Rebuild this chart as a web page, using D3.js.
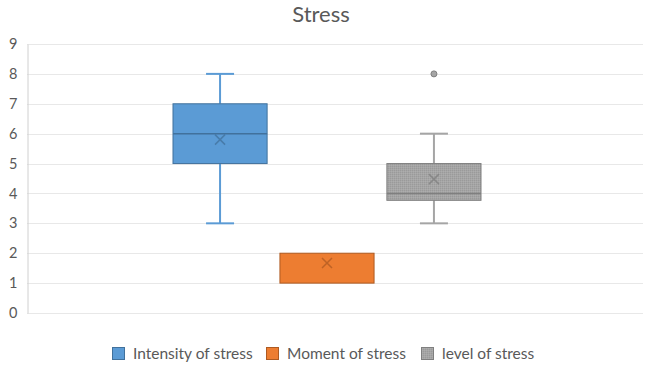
<!DOCTYPE html>
<html>
<head>
<meta charset="utf-8">
<script src="https://cdn.jsdelivr.net/npm/d3@7"></script>
<style>
  body { margin: 0; background: #fff; }
  text { font-family: Lato, "Open Sans", sans-serif; fill: #595959; }
</style>
</head>
<body>
<script>
const w = 646;
const h = 370;

// data
const seriesNames = ["Intensity of stress", "Moment of stress", "level of stress"];
const mins = [3, 1, 3];
const q1s = [5, 1, 3.77];
const medians = [6, null, 4];
const q3s = [7, 2, 5];
const maxs = [8, 2, 6];
const means = [5.8, 1.67, 4.48];
const outliers = [[], [], [8]];
const yTicks = [0, 1, 2, 3, 4, 5, 6, 7, 8, 9];

const fills = ["#5B9BD5", "#ED7D31", "#A5A5A5"];
const strokes = ["#41719C", "#AE5A21", "#7F7F7F"];

const svg = d3.select("body")
  .append("svg")
  .attr("width", w)
  .attr("height", h);

const y = d3.scaleLinear().domain([0, 9]).range([313, 44]);
const x = d3.scaleBand()
  .domain(seriesNames)
  .range([173, 481])
  .paddingInner(0.12);

// title
svg.append("text")
  .attr("x", 321)
  .attr("y", 22)
  .attr("text-anchor", "middle")
  .style("font-size", "22px")
  .text("Stress");

// gridlines
svg.append("g")
  .selectAll("line")
  .data(yTicks)
  .enter()
  .append("line")
  .attr("x1", 27)
  .attr("x2", 643)
  .attr("y1", d => Math.round(y(d)) + 0.5)
  .attr("y2", d => Math.round(y(d)) + 0.5)
  .attr("stroke", "#E8E8E8")
  .attr("stroke-width", 1);

// y axis
const yAxis = svg.append("g")
  .attr("transform", "translate(27.5,0)")
  .call(d3.axisLeft(y).tickValues(yTicks).tickSize(0).tickPadding(10));
yAxis.select(".domain").attr("stroke", "#D0D0D0");
yAxis.selectAll("text").style("font-size", "14.5px").attr("fill", "#595959");

// pattern for the grey box
const defs = svg.append("defs");
const pat = defs.append("pattern")
  .attr("id", "greyPat")
  .attr("width", 2)
  .attr("height", 2)
  .attr("patternUnits", "userSpaceOnUse");
pat.append("rect").attr("width", 2).attr("height", 2).attr("fill", "#A5A5A5");
pat.append("rect").attr("width", 1).attr("height", 1).attr("fill", "#9A9A9A");
pat.append("rect").attr("x", 1).attr("y", 1).attr("width", 1).attr("height", 1).attr("fill", "#ADADAD");

const boxes = svg.append("g")
  .selectAll("g")
  .data(seriesNames)
  .enter()
  .append("g");

boxes.each(function (name, i) {
  const g = d3.select(this);
  const x0 = x(name);
  const bw = x.bandwidth();
  const cx = x0 + bw / 2;
  const cap = 14;
  const fill = i === 2 ? "url(#greyPat)" : fills[i];

  // whiskers
  if (maxs[i] > q3s[i]) {
    g.append("line").attr("x1", cx).attr("x2", cx)
      .attr("y1", y(q3s[i])).attr("y2", y(maxs[i]))
      .attr("stroke", fills[i]).attr("stroke-width", 2);
    g.append("line").attr("x1", cx - cap).attr("x2", cx + cap)
      .attr("y1", y(maxs[i])).attr("y2", y(maxs[i]))
      .attr("stroke", fills[i]).attr("stroke-width", 2);
  }
  if (mins[i] < q1s[i]) {
    g.append("line").attr("x1", cx).attr("x2", cx)
      .attr("y1", y(q1s[i])).attr("y2", y(mins[i]))
      .attr("stroke", fills[i]).attr("stroke-width", 2);
    g.append("line").attr("x1", cx - cap).attr("x2", cx + cap)
      .attr("y1", y(mins[i])).attr("y2", y(mins[i]))
      .attr("stroke", fills[i]).attr("stroke-width", 2);
  }

  // box
  g.append("rect")
    .attr("x", x0)
    .attr("y", y(q3s[i]))
    .attr("width", bw)
    .attr("height", y(q1s[i]) - y(q3s[i]))
    .attr("fill", fill)
    .attr("stroke", strokes[i])
    .attr("stroke-width", 1);

  // median
  if (medians[i] !== null) {
    g.append("line")
      .attr("x1", x0).attr("x2", x0 + bw)
      .attr("y1", y(medians[i])).attr("y2", y(medians[i]))
      .attr("stroke", strokes[i]).attr("stroke-width", 1.5);
  }

  // mean marker
  const my = y(means[i]);
  const s = 5;
  g.append("path")
    .attr("d", `M${cx - s},${my - s}L${cx + s},${my + s}M${cx - s},${my + s}L${cx + s},${my - s}`)
    .attr("stroke", strokes[i])
    .attr("stroke-opacity", 0.75)
    .attr("stroke-width", 1.5)
    .attr("fill", "none");

  // outliers
  g.selectAll("circle")
    .data(outliers[i])
    .enter()
    .append("circle")
    .attr("cx", cx)
    .attr("cy", d => y(d))
    .attr("r", 3)
    .attr("fill", fills[i])
    .attr("stroke", strokes[i])
    .attr("stroke-width", 1);
});

// legend
const legendX = [112, 266, 421];
const legend = svg.append("g")
  .selectAll("g")
  .data(seriesNames)
  .enter()
  .append("g")
  .attr("transform", (d, i) => "translate(" + legendX[i] + ", 347)");

legend.append("rect")
  .attr("x", 0.5)
  .attr("y", 0.5)
  .attr("width", 12)
  .attr("height", 12)
  .attr("fill", (d, i) => i === 2 ? "url(#greyPat)" : fills[i])
  .attr("stroke", (d, i) => strokes[i]);

legend.append("text")
  .attr("x", 21)
  .attr("y", 12)
  .style("font-size", "15.5px")
  .text(d => d);
</script>
</body>
</html>
